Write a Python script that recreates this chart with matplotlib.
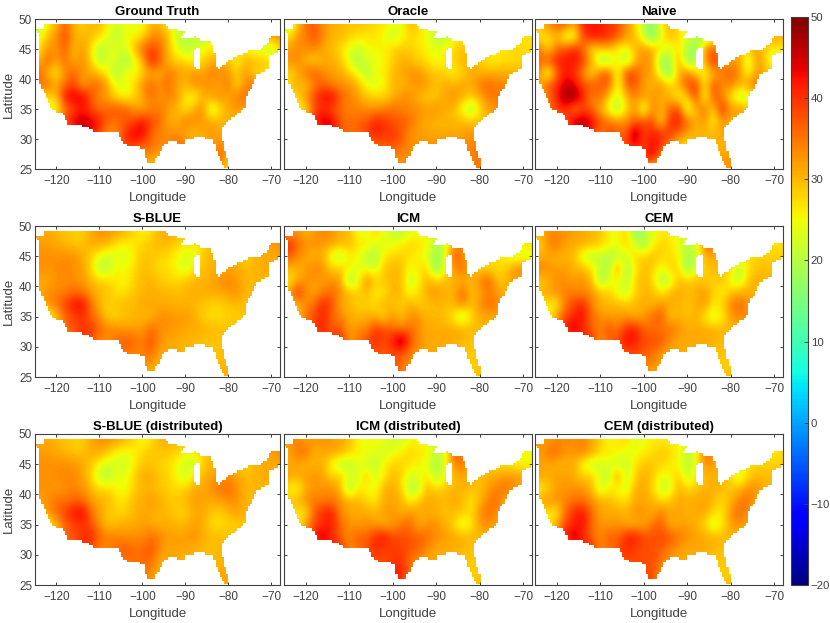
import numpy as np
import matplotlib
matplotlib.use('Agg')
import matplotlib.pyplot as plt
from matplotlib.path import Path

plt.rcParams['font.family'] = ['Liberation Sans', 'DejaVu Sans']

# grid of the temperature fields, rows go north to south
lons = list(range(-124, -66, 2))
lats = list(range(49, 23, -2))

ground_truth = [
    [18, 26, 30, 37, 30, 28, 30, 30, 26, 22, 25, 24, 24, 30, 30, 26, 22, 22, 24, 24, 25, 25, 25, 25, 25, 25, 30, 33, 33],
    [24, 30, 33, 39, 31, 30, 30, 27, 24, 19, 25, 25, 28, 33, 34, 30, 21, 20, 20, 20, 20, 25, 25, 25, 25, 25, 30, 33, 33],
    [26, 33, 32, 37, 29, 33, 27, 19, 22, 25, 22, 30, 36, 39, 36, 30, 24, 20, 22, 25, 27, 28, 28, 27, 27, 22, 23, 19, 28],
    [30, 37, 31, 36, 30, 34, 28, 20, 24, 23, 17, 23, 30, 42, 37, 30, 28, 28, 25, 28, 30, 31, 29, 25, 30, 30, 30, 27, 27],
    [37, 29, 26, 33, 37, 32, 32, 29, 25, 18, 27, 24, 28, 31, 30, 35, 33, 31, 33, 31, 35, 33, 33, 28, 33, 27, 27, 27, 27],
    [35, 36, 31, 36, 39, 31, 35, 36, 31, 24, 23, 27, 33, 36, 33, 36, 31, 30, 33, 33, 32, 31, 35, 27, 33, 37, 30, 30, 30],
    [27, 27, 29, 43, 45, 45, 38, 33, 31, 27, 25, 27, 31, 36, 32, 34, 33, 26, 24, 30, 32, 33, 31, 34, 37, 30, 30, 30, 30],
    [24, 24, 24, 34, 38, 42, 38, 35, 37, 38, 37, 33, 31, 33, 35, 32, 30, 26, 31, 34, 20, 27, 31, 33, 30, 30, 30, 30, 30],
    [30, 30, 30, 40, 44, 46, 45, 42, 36, 35, 37, 38, 42, 39, 36, 31, 30, 35, 33, 32, 31, 30, 30, 30, 30, 30, 30, 30, 30],
    [30, 30, 30, 30, 40, 45, 44, 38, 33, 33, 40, 44, 45, 36, 34, 33, 33, 30, 30, 31, 33, 31, 31, 30, 30, 30, 30, 30, 30],
    [30, 30, 30, 30, 30, 30, 30, 33, 33, 33, 40, 40, 36, 36, 34, 33, 36, 36, 30, 30, 31, 33, 33, 30, 30, 30, 30, 30, 30],
    [30, 30, 30, 30, 30, 30, 30, 30, 30, 30, 30, 33, 33, 32, 30, 30, 30, 30, 30, 30, 33, 39, 28, 30, 30, 30, 30, 30, 30],
    [30, 30, 30, 30, 30, 30, 30, 30, 30, 30, 30, 30, 30, 30, 30, 30, 30, 30, 30, 30, 30, 30, 27, 30, 30, 30, 30, 30, 30],
]
oracle = [
    [20, 28, 36, 37, 33, 31, 30, 29, 29, 29, 27, 27, 24, 24, 30, 28, 24, 24, 24, 24, 24, 26, 26, 26, 26, 26, 26, 26, 26],
    [27, 33, 34, 38, 33, 30, 30, 28, 27, 26, 27, 24, 22, 24, 28, 26, 25, 19, 19, 25, 27, 26, 26, 26, 26, 26, 26, 27, 27],
    [32, 33, 33, 34, 31, 30, 27, 24, 21, 25, 25, 26, 28, 29, 28, 27, 25, 24, 26, 27, 30, 28, 27, 26, 26, 27, 28, 27, 27],
    [33, 34, 30, 27, 31, 31, 29, 24, 18, 23, 24, 25, 28, 31, 30, 28, 27, 24, 26, 28, 30, 30, 28, 27, 26, 27, 27, 28, 28],
    [27, 30, 35, 38, 33, 32, 31, 28, 25, 19, 25, 26, 30, 31, 33, 33, 30, 29, 28, 25, 28, 31, 31, 30, 31, 31, 31, 30, 30],
    [27, 32, 28, 34, 37, 34, 33, 33, 30, 25, 23, 25, 30, 30, 31, 33, 32, 29, 31, 31, 31, 31, 34, 37, 34, 34, 30, 30, 30],
    [27, 27, 33, 39, 43, 44, 37, 34, 32, 29, 28, 28, 30, 33, 33, 30, 28, 29, 31, 33, 31, 28, 31, 34, 35, 36, 30, 30, 30],
    [25, 25, 27, 37, 40, 38, 35, 34, 34, 33, 33, 34, 36, 34, 33, 33, 32, 33, 31, 30, 24, 18, 27, 32, 33, 33, 30, 30, 30],
    [30, 30, 30, 43, 46, 44, 37, 35, 36, 37, 41, 40, 37, 37, 36, 32, 31, 30, 30, 30, 30, 29, 29, 30, 30, 30, 30, 30, 30],
    [30, 30, 30, 30, 40, 44, 37, 36, 37, 39, 42, 40, 40, 37, 33, 32, 31, 31, 31, 31, 31, 33, 30, 30, 30, 30, 30, 30, 30],
    [30, 30, 30, 30, 30, 30, 30, 30, 30, 36, 36, 37, 38, 36, 33, 33, 33, 33, 33, 33, 33, 34, 34, 30, 30, 30, 30, 30, 30],
    [30, 30, 30, 30, 30, 30, 30, 30, 30, 30, 33, 33, 33, 33, 33, 33, 33, 33, 33, 33, 33, 34, 36, 30, 30, 30, 30, 30, 30],
    [30, 30, 30, 30, 30, 30, 30, 30, 30, 30, 30, 33, 33, 33, 33, 33, 33, 33, 33, 33, 33, 33, 36, 30, 30, 30, 30, 30, 30],
]
naive = [
    [30, 33, 37, 37, 30, 42, 42, 42, 40, 38, 33, 28, 20, 15, 26, 30, 27, 24, 24, 24, 24, 26, 26, 26, 26, 26, 26, 28, 28],
    [26, 26, 30, 22, 22, 38, 42, 42, 40, 38, 32, 30, 22, 14, 24, 30, 28, 22, 20, 16, 24, 26, 26, 26, 26, 26, 28, 32, 30],
    [36, 27, 36, 38, 42, 36, 26, 28, 30, 24, 24, 30, 33, 31, 27, 22, 27, 20, 16, 33, 38, 30, 30, 30, 28, 33, 28, 26, 26],
    [36, 38, 42, 42, 43, 40, 32, 18, 18, 28, 17, 30, 33, 32, 16, 18, 33, 15, 20, 30, 42, 34, 30, 33, 20, 33, 28, 20, 26],
    [34, 20, 36, 42, 40, 33, 26, 36, 38, 22, 40, 38, 33, 32, 22, 16, 30, 35, 28, 24, 30, 34, 38, 33, 24, 33, 30, 30, 30],
    [30, 38, 40, 46, 44, 38, 38, 36, 38, 22, 36, 38, 31, 30, 33, 28, 30, 38, 40, 26, 38, 33, 34, 30, 33, 36, 30, 30, 30],
    [30, 34, 42, 48, 50, 42, 33, 37, 28, 22, 30, 34, 32, 33, 31, 30, 24, 28, 40, 22, 38, 34, 26, 20, 20, 30, 30, 30, 30],
    [26, 36, 38, 42, 32, 38, 36, 30, 24, 18, 27, 33, 20, 34, 30, 36, 40, 21, 30, 36, 27, 42, 32, 34, 30, 30, 30, 30, 30],
    [33, 33, 33, 38, 46, 48, 44, 38, 34, 33, 33, 36, 38, 38, 26, 40, 42, 36, 30, 33, 24, 33, 30, 30, 30, 30, 30, 30, 30],
    [33, 33, 33, 33, 42, 42, 42, 33, 40, 37, 36, 50, 38, 42, 40, 40, 36, 32, 30, 30, 30, 32, 30, 30, 30, 30, 30, 30, 30],
    [33, 33, 33, 33, 33, 33, 33, 33, 33, 36, 40, 43, 38, 44, 40, 33, 28, 26, 30, 30, 30, 30, 30, 30, 30, 30, 30, 30, 30],
    [30, 30, 30, 30, 30, 30, 30, 30, 30, 30, 30, 38, 40, 44, 33, 30, 30, 30, 30, 30, 30, 32, 33, 30, 30, 30, 30, 30, 30],
    [30, 30, 30, 30, 30, 30, 30, 30, 30, 30, 30, 30, 30, 27, 27, 30, 30, 30, 30, 30, 30, 32, 33, 30, 30, 30, 30, 30, 30],
]
s_blue = [
    [31, 31, 30, 29, 28, 28, 31, 33, 33, 32, 30, 28, 25, 27, 30, 31, 30, 30, 30, 30, 31, 31, 31, 31, 31, 31, 33, 33, 33],
    [32, 32, 31, 30, 29, 29, 31, 31, 30, 26, 26, 26, 28, 29, 30, 30, 28, 27, 27, 27, 30, 31, 31, 31, 31, 30, 31, 32, 33],
    [33, 33, 33, 33, 33, 31, 28, 24, 22, 24, 22, 26, 29, 29, 28, 27, 25, 23, 22, 29, 30, 31, 31, 30, 27, 30, 31, 31, 31],
    [33, 33, 33, 34, 33, 32, 28, 20, 20, 26, 25, 27, 30, 29, 27, 27, 25, 22, 27, 30, 30, 31, 31, 31, 30, 30, 31, 31, 31],
    [31, 31, 33, 33, 33, 32, 30, 28, 28, 26, 25, 28, 30, 30, 29, 28, 27, 29, 30, 30, 31, 33, 34, 32, 30, 30, 30, 30, 30],
    [31, 33, 34, 34, 36, 35, 32, 30, 29, 27, 27, 29, 30, 31, 30, 30, 30, 30, 31, 31, 31, 31, 32, 33, 30, 30, 30, 30, 30],
    [30, 33, 35, 39, 43, 44, 36, 30, 28, 29, 30, 30, 31, 31, 31, 31, 30, 30, 30, 29, 28, 28, 29, 30, 29, 30, 30, 30, 30],
    [24, 24, 29, 36, 38, 40, 36, 33, 28, 28, 29, 30, 30, 30, 33, 33, 32, 33, 31, 28, 27, 27, 28, 28, 29, 30, 30, 30, 30],
    [30, 30, 30, 36, 38, 40, 40, 36, 34, 33, 32, 32, 32, 36, 33, 33, 32, 31, 31, 31, 30, 30, 29, 30, 30, 30, 30, 30, 30],
    [30, 30, 30, 30, 36, 40, 38, 34, 33, 36, 37, 36, 34, 38, 33, 31, 31, 30, 30, 29, 29, 29, 30, 30, 30, 30, 30, 30, 30],
    [30, 30, 30, 30, 30, 30, 30, 30, 30, 33, 36, 34, 34, 36, 31, 31, 31, 30, 30, 30, 29, 29, 30, 30, 30, 30, 30, 30, 30],
    [30, 30, 30, 30, 30, 30, 30, 30, 30, 30, 30, 33, 33, 32, 30, 30, 30, 30, 30, 30, 30, 30, 30, 30, 30, 30, 30, 30, 30],
    [30, 30, 30, 30, 30, 30, 30, 30, 30, 30, 30, 30, 30, 30, 30, 30, 30, 30, 30, 30, 30, 30, 31, 30, 30, 30, 30, 30, 30],
]
icm = [
    [30, 33, 30, 32, 34, 33, 30, 30, 24, 23, 28, 24, 21, 20, 24, 24, 24, 24, 24, 24, 24, 26, 26, 26, 26, 26, 26, 26, 26],
    [42, 36, 33, 33, 32, 32, 30, 30, 27, 27, 23, 24, 24, 26, 28, 27, 26, 18, 22, 32, 38, 26, 26, 26, 26, 26, 25, 27, 27],
    [37, 34, 31, 30, 31, 22, 20, 26, 25, 20, 19, 26, 28, 28, 27, 25, 24, 16, 24, 37, 33, 30, 28, 27, 27, 25, 22, 22, 24],
    [30, 30, 32, 34, 33, 28, 29, 26, 24, 24, 22, 29, 30, 30, 24, 27, 27, 15, 24, 33, 36, 31, 28, 27, 28, 28, 33, 35, 28],
    [26, 30, 33, 32, 32, 33, 32, 17, 24, 34, 28, 29, 30, 30, 21, 25, 31, 28, 30, 30, 30, 30, 33, 38, 28, 30, 32, 30, 30],
    [30, 42, 33, 31, 34, 36, 33, 30, 28, 30, 26, 26, 31, 30, 24, 28, 31, 33, 30, 30, 37, 29, 31, 34, 33, 30, 30, 30, 30],
    [28, 30, 33, 36, 42, 38, 31, 30, 28, 28, 27, 31, 29, 28, 31, 28, 29, 30, 30, 30, 34, 29, 33, 36, 34, 30, 30, 30, 30],
    [24, 28, 36, 38, 41, 36, 34, 31, 30, 31, 30, 27, 33, 29, 33, 33, 30, 30, 29, 26, 19, 27, 31, 31, 31, 30, 30, 30, 30],
    [30, 30, 30, 41, 42, 36, 38, 31, 33, 33, 40, 38, 36, 34, 36, 33, 31, 31, 31, 31, 31, 30, 30, 30, 30, 30, 30, 30, 30],
    [30, 30, 30, 30, 38, 41, 42, 32, 36, 38, 41, 38, 42, 50, 38, 33, 31, 31, 31, 31, 30, 29, 29, 30, 30, 30, 30, 30, 30],
    [30, 30, 30, 30, 30, 30, 30, 30, 30, 38, 38, 37, 38, 38, 34, 33, 31, 31, 31, 30, 29, 29, 29, 30, 30, 30, 30, 30, 30],
    [30, 30, 30, 30, 30, 30, 30, 30, 30, 30, 30, 37, 38, 35, 33, 31, 31, 31, 30, 30, 29, 28, 28, 30, 30, 30, 30, 30, 30],
    [30, 30, 30, 30, 30, 30, 30, 30, 30, 30, 30, 30, 36, 36, 30, 30, 30, 30, 30, 30, 30, 30, 30, 30, 30, 30, 30, 30, 30],
]
cem = [
    [30, 33, 33, 33, 32, 31, 30, 29, 25, 24, 29, 15, 20, 24, 26, 26, 24, 24, 24, 24, 26, 26, 26, 26, 26, 26, 26, 26, 26],
    [28, 33, 36, 31, 31, 31, 30, 29, 26, 25, 28, 23, 17, 25, 28, 27, 24, 20, 22, 36, 38, 26, 26, 26, 26, 26, 26, 27, 27],
    [30, 31, 30, 30, 30, 22, 20, 21, 19, 20, 23, 28, 28, 30, 28, 27, 26, 18, 21, 30, 31, 30, 28, 27, 27, 28, 28, 28, 28],
    [35, 33, 32, 32, 30, 30, 27, 22, 18, 35, 17, 26, 30, 28, 24, 28, 28, 16, 23, 29, 30, 29, 28, 20, 27, 29, 30, 29, 29],
    [28, 30, 33, 33, 32, 33, 30, 17, 24, 25, 20, 28, 30, 28, 19, 21, 30, 28, 30, 28, 28, 30, 24, 20, 29, 31, 30, 30, 30],
    [30, 32, 33, 34, 34, 33, 33, 30, 28, 24, 21, 28, 30, 30, 26, 30, 31, 30, 30, 33, 28, 25, 29, 31, 31, 30, 30, 30, 30],
    [28, 26, 25, 35, 39, 42, 34, 30, 30, 30, 29, 30, 31, 30, 33, 31, 30, 29, 30, 33, 26, 28, 34, 36, 33, 30, 30, 30, 30],
    [24, 24, 33, 38, 41, 43, 36, 33, 32, 32, 32, 30, 32, 35, 38, 28, 31, 29, 31, 26, 22, 25, 32, 34, 33, 30, 30, 30, 30],
    [30, 30, 30, 44, 45, 40, 36, 34, 38, 34, 41, 42, 36, 36, 34, 36, 33, 31, 31, 31, 31, 30, 30, 30, 30, 30, 30, 30, 30],
    [30, 30, 30, 30, 40, 43, 42, 32, 37, 38, 43, 42, 38, 38, 38, 33, 31, 31, 31, 31, 30, 30, 30, 30, 30, 30, 30, 30, 30],
    [30, 30, 30, 30, 30, 30, 30, 30, 30, 38, 38, 39, 37, 36, 32, 31, 31, 31, 31, 31, 30, 29, 29, 30, 30, 30, 30, 30, 30],
    [30, 30, 30, 30, 30, 30, 30, 30, 30, 30, 30, 36, 33, 34, 31, 31, 31, 31, 31, 31, 30, 28, 28, 30, 30, 30, 30, 30, 30],
    [30, 30, 30, 30, 30, 30, 30, 30, 30, 30, 30, 30, 33, 30, 30, 30, 30, 30, 30, 30, 30, 30, 30, 30, 30, 30, 30, 30, 30],
]
s_blue_dist = [
    [31, 31, 30, 29, 28, 28, 31, 33, 33, 32, 30, 28, 24, 27, 30, 31, 30, 30, 30, 30, 31, 31, 31, 31, 31, 31, 33, 33, 33],
    [32, 32, 31, 30, 29, 29, 31, 31, 29, 25, 25, 25, 28, 29, 29, 29, 28, 26, 26, 27, 30, 31, 31, 31, 31, 30, 31, 32, 33],
    [33, 33, 33, 33, 33, 31, 29, 25, 22, 23, 21, 26, 29, 29, 28, 27, 25, 22, 21, 29, 30, 31, 31, 30, 27, 30, 31, 31, 31],
    [33, 33, 33, 34, 33, 32, 28, 21, 19, 25, 24, 28, 31, 31, 29, 28, 25, 22, 27, 30, 31, 33, 33, 31, 30, 30, 31, 31, 31],
    [33, 33, 32, 33, 34, 33, 30, 27, 28, 25, 24, 28, 30, 30, 29, 28, 27, 28, 31, 31, 33, 35, 36, 33, 30, 30, 30, 30, 30],
    [31, 33, 35, 35, 36, 36, 32, 31, 30, 27, 27, 30, 31, 32, 31, 29, 29, 30, 32, 32, 31, 32, 33, 33, 30, 30, 30, 30, 30],
    [30, 33, 36, 39, 43, 44, 36, 31, 29, 28, 28, 30, 31, 31, 30, 30, 28, 28, 31, 31, 29, 28, 30, 32, 30, 30, 30, 30, 30],
    [24, 24, 30, 36, 38, 40, 38, 33, 29, 30, 31, 31, 32, 31, 30, 31, 30, 30, 32, 31, 27, 27, 28, 28, 29, 30, 30, 30, 30],
    [30, 30, 30, 37, 38, 40, 41, 36, 34, 34, 33, 33, 33, 36, 34, 32, 32, 32, 33, 31, 30, 30, 29, 30, 30, 30, 30, 30, 30],
    [30, 30, 30, 30, 36, 40, 39, 34, 34, 36, 37, 36, 35, 38, 33, 31, 32, 31, 31, 30, 29, 30, 30, 30, 30, 30, 30, 30, 30],
    [30, 30, 30, 30, 30, 30, 30, 30, 30, 33, 36, 35, 36, 36, 31, 31, 31, 30, 30, 30, 30, 30, 30, 30, 30, 30, 30, 30, 30],
    [30, 30, 30, 30, 30, 30, 30, 30, 30, 30, 30, 35, 35, 33, 30, 30, 30, 30, 30, 30, 30, 32, 31, 30, 30, 30, 30, 30, 30],
    [30, 30, 30, 30, 30, 30, 30, 30, 30, 30, 30, 30, 33, 33, 30, 30, 30, 30, 30, 30, 30, 30, 32, 30, 30, 30, 30, 30, 30],
]
icm_dist = [
    [32, 34, 31, 33, 33, 32, 31, 30, 25, 24, 26, 24, 22, 22, 25, 25, 24, 24, 24, 24, 24, 26, 26, 26, 26, 26, 26, 24, 24],
    [31, 35, 36, 30, 31, 32, 31, 28, 26, 25, 24, 22, 24, 26, 28, 27, 26, 20, 23, 37, 38, 26, 26, 26, 26, 26, 25, 25, 25],
    [31, 31, 30, 30, 31, 24, 20, 20, 24, 22, 20, 26, 28, 28, 27, 25, 24, 18, 24, 33, 35, 30, 29, 27, 27, 27, 25, 25, 25],
    [32, 31, 32, 33, 31, 28, 29, 24, 22, 30, 22, 26, 30, 28, 22, 24, 27, 19, 25, 30, 31, 31, 29, 31, 31, 32, 33, 31, 31],
    [26, 24, 31, 32, 33, 33, 30, 17, 27, 24, 24, 31, 31, 28, 19, 21, 31, 27, 29, 30, 30, 30, 29, 32, 34, 36, 33, 30, 30],
    [29, 30, 33, 35, 34, 35, 33, 31, 30, 28, 26, 31, 31, 31, 25, 29, 31, 31, 30, 31, 30, 26, 30, 34, 36, 30, 30, 30, 30],
    [28, 27, 26, 37, 41, 42, 33, 31, 31, 31, 30, 32, 33, 30, 33, 31, 31, 30, 29, 30, 29, 27, 33, 36, 33, 30, 30, 30, 30],
    [24, 24, 33, 38, 40, 42, 36, 33, 32, 33, 32, 30, 32, 35, 36, 30, 33, 33, 31, 28, 22, 26, 32, 33, 31, 30, 30, 30, 30],
    [30, 30, 30, 44, 46, 40, 36, 33, 37, 36, 41, 43, 38, 38, 37, 37, 36, 33, 32, 31, 31, 30, 30, 30, 30, 30, 30, 30, 30],
    [30, 30, 30, 30, 40, 43, 42, 33, 36, 37, 41, 38, 40, 39, 38, 36, 33, 31, 31, 31, 30, 29, 29, 30, 30, 30, 30, 30, 30],
    [30, 30, 30, 30, 30, 30, 30, 30, 30, 38, 39, 39, 39, 40, 35, 33, 31, 31, 31, 30, 29, 29, 29, 30, 30, 30, 30, 30, 30],
    [30, 30, 30, 30, 30, 30, 30, 30, 30, 30, 30, 36, 42, 42, 36, 31, 31, 31, 31, 30, 29, 28, 28, 30, 30, 30, 30, 30, 30],
    [30, 30, 30, 30, 30, 30, 30, 30, 30, 30, 30, 30, 40, 40, 30, 30, 30, 30, 30, 30, 30, 30, 30, 30, 30, 30, 30, 30, 30],
]
cem_dist = [
    [32, 32, 33, 34, 33, 34, 31, 28, 25, 26, 28, 23, 24, 26, 26, 26, 24, 24, 24, 24, 26, 26, 26, 26, 26, 26, 26, 26, 26],
    [32, 35, 36, 32, 33, 34, 32, 28, 26, 26, 24, 24, 26, 27, 29, 28, 26, 21, 23, 37, 34, 26, 26, 26, 26, 26, 26, 26, 28],
    [31, 31, 30, 30, 31, 24, 21, 21, 24, 21, 21, 27, 29, 29, 28, 26, 25, 19, 25, 33, 32, 30, 28, 27, 27, 28, 28, 28, 28],
    [32, 31, 32, 32, 31, 28, 29, 24, 20, 34, 21, 28, 31, 29, 24, 25, 29, 21, 26, 30, 30, 30, 27, 21, 28, 30, 30, 30, 30],
    [25, 28, 32, 32, 33, 33, 30, 21, 26, 25, 22, 31, 31, 28, 21, 22, 31, 27, 29, 30, 31, 30, 29, 30, 33, 33, 30, 30, 30],
    [31, 33, 33, 34, 35, 35, 33, 31, 30, 28, 27, 31, 31, 31, 27, 29, 31, 31, 31, 32, 30, 27, 30, 34, 36, 30, 30, 30, 30],
    [28, 27, 25, 36, 41, 43, 36, 31, 31, 31, 30, 33, 33, 30, 35, 31, 32, 30, 31, 31, 28, 26, 33, 36, 33, 30, 30, 30, 30],
    [24, 24, 33, 38, 41, 43, 36, 33, 32, 33, 31, 30, 31, 35, 37, 30, 31, 32, 30, 28, 21, 26, 32, 33, 31, 30, 30, 30, 30],
    [30, 30, 30, 44, 46, 40, 36, 33, 37, 36, 41, 43, 38, 38, 38, 38, 35, 33, 32, 31, 31, 30, 30, 30, 30, 30, 30, 30, 30],
    [30, 30, 30, 30, 40, 43, 42, 33, 36, 37, 41, 38, 38, 38, 37, 34, 32, 31, 31, 31, 30, 29, 29, 30, 30, 30, 30, 30, 30],
    [30, 30, 30, 30, 30, 30, 30, 30, 30, 38, 39, 39, 38, 38, 35, 32, 31, 31, 31, 30, 29, 29, 29, 30, 30, 30, 30, 30, 30],
    [30, 30, 30, 30, 30, 30, 30, 30, 30, 30, 30, 36, 38, 38, 33, 31, 31, 31, 31, 30, 29, 28, 28, 30, 30, 30, 30, 30, 30],
    [30, 30, 30, 30, 30, 30, 30, 30, 30, 30, 30, 30, 40, 38, 30, 30, 30, 30, 30, 30, 30, 30, 30, 30, 30, 30, 30, 30, 30],
]

titles = ['Ground Truth', 'Oracle', 'Naive',
          'S-BLUE', 'ICM', 'CEM',
          'S-BLUE (distributed)', 'ICM (distributed)', 'CEM (distributed)']
fields = [ground_truth, oracle, naive, s_blue, icm, cem, s_blue_dist, icm_dist, cem_dist]

# outline of the land, and lake Michigan cut out of it
outline_lon = [-125, -123, -123, -94.8, -93.6, -89.8, -91.7, -88.2, -87.7, -85.9, -84, -83.4, -83.2, -82.6, -79.6,
               -75.6, -73.1, -71.1, -70, -68.2, -68, -68, -70.5, -70.7, -73.4, -75, -76.2, -76.2, -79.7, -81.6,
               -81.6, -80.1, -80.1, -81, -82.8, -83.5, -86.6, -90.1, -90.1, -93.6, -95.2, -97.3, -99, -99.8,
               -103.3, -104.9, -105.6, -111, -114.5, -117.2, -118.4, -121.1, -123, -124.2, -124.2, -125]
outline_lat = [48.5, 48.5, 49.1, 49.1, 48.4, 47.9, 46.6, 46.9, 47.1, 46.4, 46.2, 45.1, 44.3, 41.5, 43.2,
               44.6, 44.8, 45.7, 47.2, 47.3, 47.3, 44.8, 43.7, 41.8, 40.7, 38.2, 36.5, 35.1, 33.2, 31.8,
               30.4, 26.5, 25.4, 25.4, 28.2, 29.9, 30.4, 29.9, 29.2, 29.6, 28.8, 26, 26, 28.5,
               29, 29.6, 31.3, 31.3, 32.4, 32.4, 34.3, 34.9, 38.2, 39.9, 47.7, 48]
lake_lon = [-87.2, -86.3, -86.3, -86.6, -87.5, -88, -88]
lake_lat = [45.2, 45.2, 43, 41.6, 41.6, 42.5, 44.5]

# the figure is laid out in pixels of the 830x623 picture
W, H = 830, 623
col_x = [(35, 280), (284, 532), (535, 783)]
row_y = [(19, 169), (226, 377), (434, 585)]
dark = '#404040'

# blocky land mask, cells are about half a degree
land = Path(np.column_stack([outline_lon, outline_lat]))
lake = Path(np.column_stack([lake_lon, lake_lat]))
mask_lon = np.arange(-125.25, -67.5, 0.5)
mask_lat = np.arange(50.2, 24.8, -0.4)
mx, my = np.meshgrid(mask_lon, mask_lat)
pts = np.column_stack([mx.ravel(), my.ravel()])
inside = land.contains_points(pts) & ~lake.contains_points(pts)
overlay = np.ones(mx.shape + (4,))
overlay[..., 3] = (~inside.reshape(mx.shape)).astype(float)

fig = plt.figure(figsize=(W / 100, H / 100), dpi=100)
dlon = lons[1] - lons[0]
dlat = lats[0] - lats[1]
extent = [lons[0] - dlon / 2, lons[-1] + dlon / 2, lats[-1] - dlat / 2, lats[0] + dlat / 2]

for i, (title, field) in enumerate(zip(titles, fields)):
    r, c = divmod(i, 3)
    x0, x1 = col_x[c]
    y0, y1 = row_y[r]
    ax = fig.add_axes([x0 / W, 1 - y1 / H, (x1 - x0) / W, (y1 - y0) / H])
    im = ax.imshow(np.array(field, dtype=float), extent=extent, cmap='jet', vmin=-20, vmax=50,
                   aspect='auto', interpolation='bicubic', interpolation_stage='data')
    ax.imshow(overlay, extent=[mask_lon[0] - 0.25, mask_lon[-1] + 0.25, mask_lat[-1] - 0.2, mask_lat[0] + 0.2],
              aspect='auto', interpolation='nearest')
    ax.set_xlim(-125, -68)
    ax.set_ylim(25, 50)
    ax.set_xticks(range(-120, -60, 10))
    ax.set_yticks(range(25, 55, 5))
    ax.tick_params(direction='in', length=2.5, width=0.7, top=True, right=True, labelsize=8.5, colors=dark)
    ax.tick_params(axis='x', pad=4)
    ax.tick_params(axis='y', pad=2)
    for spine in ax.spines.values():
        spine.set_linewidth(0.8)
        spine.set_color(dark)
    ax.set_title(title, fontsize=9.5, fontweight='bold', pad=3)
    ax.set_xlabel('Longitude', fontsize=9.5, color=dark, labelpad=4)
    if c == 0:
        ax.set_ylabel('Latitude', fontsize=9.5, color=dark, labelpad=3)
    else:
        ax.tick_params(labelleft=False)

cax = fig.add_axes([791 / W, 1 - 585 / H, 17 / W, 568 / H])
cb = fig.colorbar(im, cax=cax, ticks=range(-20, 60, 10))
cb.ax.tick_params(direction='in', length=3, width=0.7, labelsize=8.2, colors=dark, pad=2)
cb.outline.set_linewidth(0.8)
cb.outline.set_edgecolor(dark)

fig.savefig('out.png', dpi=100)
